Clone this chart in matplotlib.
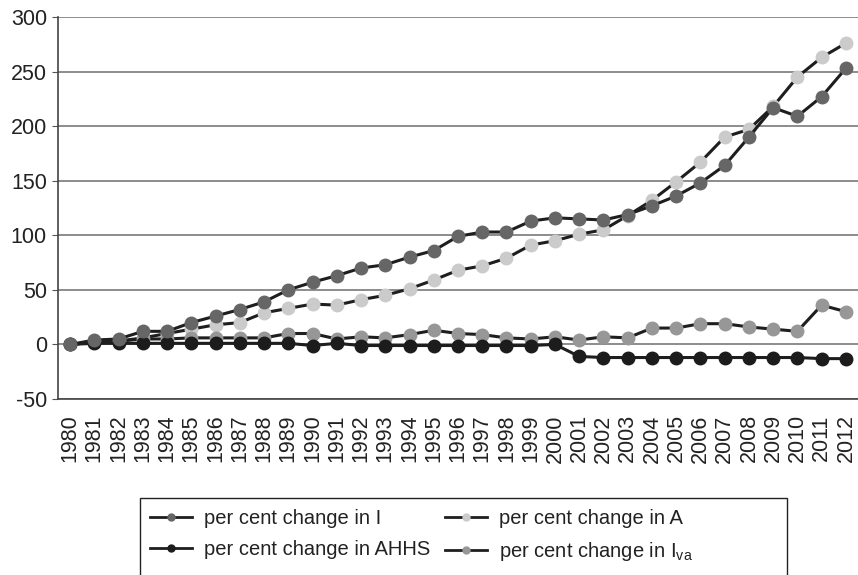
import matplotlib.pyplot as plt
from matplotlib.patches import Rectangle

plt.rcParams['font.family'] = ['Liberation Sans', 'DejaVu Sans']
plt.rcParams['mathtext.fontset'] = 'custom'
plt.rcParams['mathtext.rm'] = 'Liberation Sans'
plt.rcParams['axes.unicode_minus'] = False

years = [str(y) for y in range(1980, 2013)]

change_i = [0, 4, 5, 12, 12, 20, 26, 32, 39, 50, 57, 63, 70, 73, 80, 86, 99, 103,
            103, 113, 116, 115, 114, 119, 127, 136, 148, 164, 190, 217, 209, 227, 253]
change_a = [0, 2, 3, 6, 10, 14, 18, 20, 29, 33, 37, 36, 41, 45, 51, 59, 68, 72,
            79, 91, 95, 101, 105, 118, 132, 149, 167, 190, 197, 218, 245, 263, 276]
change_ahhs = [0, 1, 1, 1, 1, 1, 1, 1, 1, 1, -1, 1, -1, -1, -1, -1, -1, -1,
               -1, -1, 0, -11, -12, -12, -12, -12, -12, -12, -12, -12, -12, -13, -13]
change_iva = [0, 2, 3, 5, 5, 6, 6, 6, 6, 10, 10, 5, 7, 6, 9, 13, 10, 9,
              6, 5, 7, 4, 7, 6, 15, 15, 19, 19, 16, 14, 12, 36, 30]

labels = ['per cent change in I', 'per cent change in A',
          'per cent change in AHHS', r'per cent change in I$_\mathregular{va}$']
colours = ['#666666', '#cbcbcb', '#1c1c1c', '#979797']

W, H = 858, 575
fig = plt.figure(figsize=(W / 100, H / 100), dpi=100)
ax = fig.add_axes([58 / W, 1 - 399 / H, 1 - 58 / W, (399 - 17) / H])

x = range(len(years))
series = [change_i, change_a, change_ahhs, change_iva]
zorders = [6, 3, 5, 4]
handles = []
for vals, col, lab, z in zip(series, colours, labels, zorders):
    ax.plot(x, vals, color='#1e1e1e', lw=2.2, zorder=z)
    ax.plot(x, vals, ls='none', marker='o', ms=9, mfc=col, mec=col, zorder=z + 0.5)
    h, = ax.plot([], [], color='#1e1e1e', lw=2, marker='o', ms=5, mfc=col, mec=col)
    handles.append((h, lab))

ax.set_xlim(-0.5, len(years) - 0.5)
ax.set_ylim(-50, 300)
ax.set_yticks(range(-50, 301, 50))
ax.set_xticks(list(x))
ax.set_xticklabels(years, rotation=90)
ax.tick_params(axis='x', length=0, pad=11, labelsize=15.5, colors='#222222')
ax.tick_params(axis='y', length=4, color='#555555', labelsize=15.5, colors='#222222', pad=4)
ax.yaxis.grid(True, color='#6e6e6e', lw=1.1)
ax.set_axisbelow(True)
for s in ['top', 'right']:
    ax.spines[s].set_visible(False)
for s in ['left', 'bottom']:
    ax.spines[s].set_color('#444444')
    ax.spines[s].set_linewidth(1.2)

# legend box drawn by hand, it runs off the bottom of the figure
fig.patches.append(Rectangle((140 / W, -0.05), (787 - 140) / W, 0.05 + (H - 498) / H,
                             transform=fig.transFigure, fill=False,
                             edgecolor='#222222', lw=1.0))
order = [0, 2, 1, 3]
leg = fig.legend([handles[i][0] for i in order], [handles[i][1] for i in order],
                 loc='upper left', bbox_to_anchor=(146 / W, (H - 505) / H),
                 ncol=2, fontsize=14.5, frameon=False, handlelength=2.1,
                 handletextpad=0.6, labelspacing=0.6, columnspacing=0.7,
                 borderpad=0.2, borderaxespad=0)
for t in leg.get_texts():
    t.set_color('#222222')

fig.savefig('out.png', dpi=100)
